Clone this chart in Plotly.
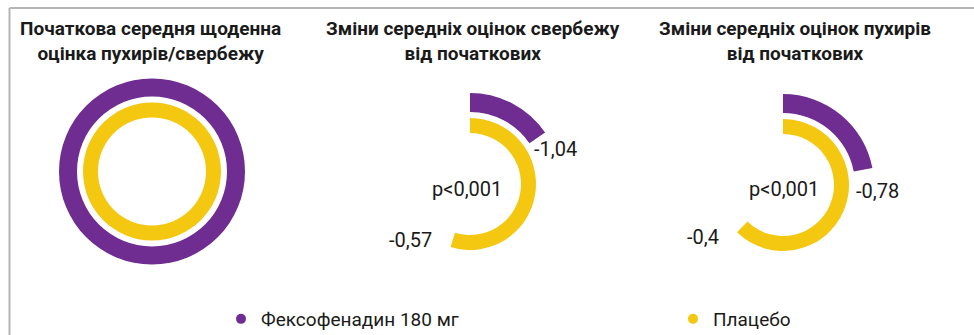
import plotly.graph_objects as go

# ---- data -------------------------------------------------------------
groups = ["Фексофенадин 180 мг", "Плацебо"]
titles = [
    "Початкова середня щоденна<br>оцінка пухирів/свербежу",
    "Зміни середніх оцінок свербежу<br>від початкових",
    "Зміни середніх оцінок пухирів<br>від початкових",
]
# mean daily baseline scores (fexofenadine, placebo)
baseline_itch = [1.23, 1.26]
baseline_wheal = [1.00, 1.06]
# mean change from baseline (fexofenadine, placebo)
change_itch = [-1.04, -0.57]
change_wheal = [-0.78, -0.40]
p_value_text = "p<0,001"

# ---- style ------------------------------------------------------------
W, H = 974, 335
PURPLE = "#6f2c91"
YELLOW = "#f4c710"
TEXT = "#1a1a1a"
FONT = "Roboto"
colors = [PURPLE, YELLOW]


def px_x(x):
    return x / W


def px_y(y):
    return 1 - y / H


def fmt(v):
    return ("%g" % v).replace(".", ",")


R = 100  # radial axis span in pixels
centers = [(152, 171.5), (470, 184), (783, 185)]
# ring radii in px: (inner, outer) for fexofenadine / placebo
rings_base = [(75, 93), (54, 69)]
rings_change = [(72, 91), (51, 66)]

fig = go.Figure()

polar_names = ["polar", "polar2", "polar3"]
layout_polars = {}
for name, (cx, cy) in zip(polar_names, centers):
    layout_polars[name] = dict(
        domain=dict(x=[px_x(cx - R), px_x(cx + R)], y=[px_y(cy + R), px_y(cy - R)]),
        bgcolor="rgba(0,0,0,0)",
        angularaxis=dict(direction="clockwise", rotation=90, visible=False,
                         showgrid=False, showline=False, showticklabels=False),
        radialaxis=dict(range=[0, R], visible=False, showgrid=False,
                        showline=False, showticklabels=False),
        hole=0,
    )

# panel 1: baseline scores as full rings
for i in range(2):
    r0, r1 = rings_base[i]
    fig.add_trace(go.Barpolar(
        r=[r1 - r0], base=[r0], theta=[180], width=[360],
        marker=dict(color=colors[i], line=dict(width=0)),
        subplot="polar", showlegend=False, hoverinfo="skip",
    ))

# panels 2 and 3: remaining share of the baseline score after the change
for name, base, change in [("polar2", baseline_itch, change_itch),
                           ("polar3", baseline_wheal, change_wheal)]:
    for i in range(2):
        sweep = 360 * (base[i] + change[i]) / base[i]
        r0, r1 = rings_change[i]
        fig.add_trace(go.Barpolar(
            r=[r1 - r0], base=[r0], theta=[sweep / 2], width=[sweep],
            marker=dict(color=colors[i], line=dict(width=0)),
            subplot=name, showlegend=False, hoverinfo="skip",
        ))

# legend entries, one legend box per group
legend_names = ["legend", "legend2"]
for i in range(2):
    fig.add_trace(go.Scatterpolar(
        r=[None], theta=[None], mode="markers", name=groups[i],
        marker=dict(color=colors[i], size=10, symbol="circle"),
        subplot="polar", showlegend=True, legend=legend_names[i],
    ))

annotations = []
title_x = [150, 473, 795]
for t, x in zip(titles, title_x):
    annotations.append(dict(
        text=t, x=px_x(x), y=px_y(41), xref="paper", yref="paper",
        xanchor="center", yanchor="middle", showarrow=False,
        font=dict(family=FONT, size=19, color=TEXT, weight="bold"),
    ))

label_pos = {
    "itch": [(555, 149), (410, 240)],
    "wheal": [(877, 191), (703, 237)],
}
for key, change in [("itch", change_itch), ("wheal", change_wheal)]:
    for i in range(2):
        x, y = label_pos[key][i]
        annotations.append(dict(
            text=fmt(change[i]), x=px_x(x), y=px_y(y), xref="paper", yref="paper",
            xanchor="center", yanchor="middle", showarrow=False,
            font=dict(family=FONT, size=20, color=TEXT),
        ))
for x in (467, 784):
    annotations.append(dict(
        text=p_value_text, x=px_x(x), y=px_y(189), xref="paper", yref="paper",
        xanchor="center", yanchor="middle", showarrow=False,
        font=dict(family=FONT, size=20, color=TEXT),
    ))

shapes = [
    dict(type="line", xref="paper", yref="paper", x0=px_x(9.5), x1=px_x(9.5),
         y0=px_y(8), y1=0, line=dict(color="#b5b5b5", width=2)),
    dict(type="line", xref="paper", yref="paper", x0=px_x(9.5), x1=1,
         y0=px_y(8), y1=px_y(8), line=dict(color="#b5b5b5", width=2)),
]

legend_style = dict(orientation="h", xanchor="left", yanchor="middle",
                    font=dict(family=FONT, size=19, color=TEXT),
                    bgcolor="rgba(0,0,0,0)", borderwidth=0)

fig.update_layout(
    width=W, height=H,
    margin=dict(l=0, r=0, t=0, b=0, autoexpand=False),
    paper_bgcolor="white", plot_bgcolor="white",
    font=dict(family=FONT, size=18, color=TEXT),
    annotations=annotations, shapes=shapes,
    legend=dict(x=px_x(221), y=px_y(319), **legend_style),
    legend2=dict(x=px_x(673), y=px_y(319), **legend_style),
    **layout_polars,
)

fig.write_html("out.html")
